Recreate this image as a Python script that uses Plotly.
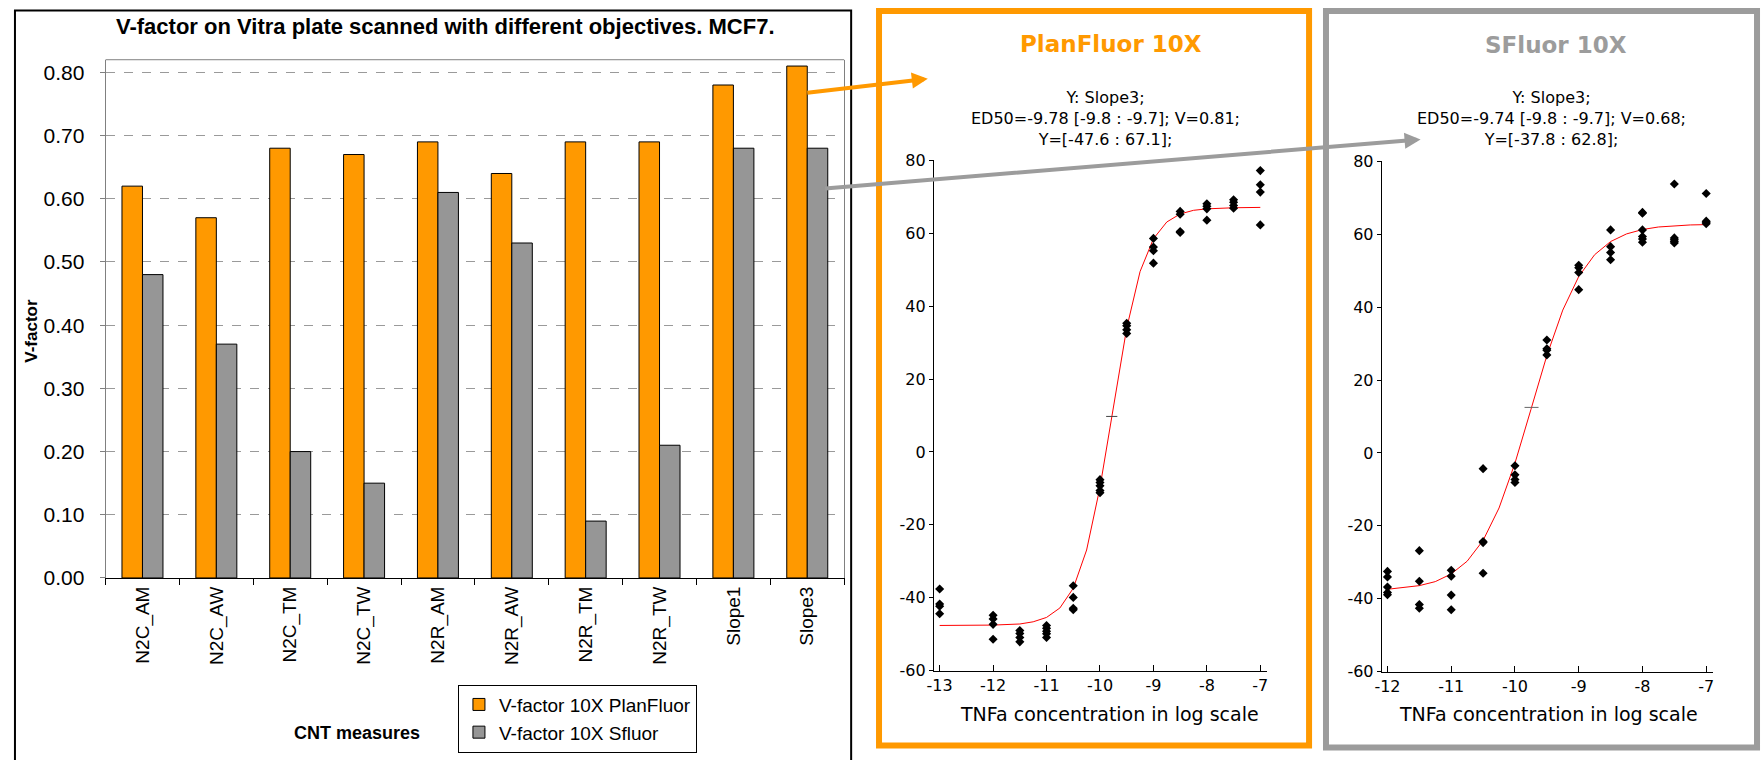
import plotly.graph_objects as go

W, H = 1763, 760
# measured vertical mapping of the photographed page (offset and scale)
Y_OFF, Y_SCALE = 7.1, 0.977

# ---------------- data ----------------
categories = ["N2C_AM", "N2C_AW", "N2C_TM", "N2C_TW", "N2R_AM",
              "N2R_AW", "N2R_TM", "N2R_TW", "Slope1", "Slope3"]
planfluor = [0.62, 0.57, 0.68, 0.67, 0.69, 0.64, 0.69, 0.69, 0.78, 0.81]
sfluor = [0.48, 0.37, 0.20, 0.15, 0.61, 0.53, 0.09, 0.21, 0.68, 0.68]
bar_yticks = [0.0, 0.1, 0.2, 0.3, 0.4, 0.5, 0.6, 0.7, 0.8]

pf_xticks = [-13, -12, -11, -10, -9, -8, -7]
pf_xticklabels = ["-13", "-12", "-11", "-10", "-9", "-8", "-7"]
sf_xticks = [-12, -11, -10, -9, -8, -7]
sf_xticklabels = ["-12", "-11", "-10", "-9", "-8", "-7"]
dr_yticks = [-60, -40, -20, 0, 20, 40, 60, 80]
dr_yticklabels = ["-60", "-40", "-20", "0", "20", "40", "60", "80"]

# PlanFluor 10X dose-response points
pf_x = [-13, -13, -13, -13,
        -12, -12, -12, -12,
        -11.5, -11.5, -11.5, -11.5,
        -11, -11, -11, -11, -11,
        -10.5, -10.5, -10.5, -10.5,
        -10, -10, -10, -10, -10,
        -9.5, -9.5, -9.5, -9.5,
        -9, -9, -9, -9,
        -8.5, -8.5, -8.5, -8.5,
        -8, -8, -8, -8,
        -7.5, -7.5, -7.5, -7.5,
        -7, -7, -7, -7]
pf_y = [-37.6, -41.7, -42.3, -44.4,
        -44.8, -45.8, -47.3, -51.4,
        -49.0, -49.8, -50.9, -52.1,
        -47.6, -48.4, -49.2, -49.9, -50.9,
        -36.7, -39.9, -42.9, -43.3,
        -7.6, -8.4, -9.3, -10.6, -11.2,
        35.3, 34.6, 33.5, 32.5,
        58.6, 56.2, 55.2, 51.8,
        66.0, 65.2, 60.5, 60.2,
        68.1, 67.4, 66.7, 63.6,
        69.2, 68.5, 67.6, 66.9,
        77.2, 73.3, 71.3, 62.3]
pf_curve_x = [-13, -12.5, -12, -11.5, -11.25, -11, -10.75, -10.5, -10.25, -10,
              -9.75, -9.5, -9.25, -9, -8.75, -8.5, -8.25, -8, -7.5, -7]
pf_curve_y = [-47.6, -47.6, -47.5, -47.2, -46.6, -45.4, -42.8, -37.4, -26.9, -9.7,
              12.5, 34.0, 49.5, 58.5, 63.1, 65.3, 66.3, 66.7, 67.0, 67.1]
pf_ed50 = [-9.78]
pf_mid = [9.75]

# SFluor 10X dose-response points
sf_x = [-12, -12, -12, -12, -12,
        -11.5, -11.5, -11.5, -11.5,
        -11, -11, -11, -11,
        -10.5, -10.5, -10.5, -10.5,
        -10, -10, -10, -10,
        -9.5, -9.5, -9.5, -9.5,
        -9, -9, -9, -9,
        -8.5, -8.5, -8.5, -8.5,
        -8, -8, -8, -8, -8, -8,
        -7.5, -7.5, -7.5, -7.5, -7.5,
        -7, -7, -7, -7]
sf_y = [-32.5, -34.0, -36.8, -38.3, -38.9,
        -26.8, -35.2, -41.6, -42.6,
        -32.2, -33.8, -39.0, -43.0,
        -4.3, -24.3, -24.6, -33.0,
        -3.5, -6.0, -7.3, -8.1,
        31.0, 28.6, 28.2, 26.9,
        51.5, 50.8, 49.5, 44.8,
        61.2, 56.6, 55.0, 53.0,
        66.0, 65.8, 61.2, 59.4, 58.7, 57.8,
        73.8, 59.0, 58.5, 58.0, 57.6,
        71.2, 63.6, 63.3, 62.9]
sf_curve_x = [-12, -11.75, -11.5, -11.25, -11, -10.75, -10.5, -10.25, -10,
              -9.75, -9.5, -9.25, -9, -8.75, -8.5, -8.25, -8, -7.75, -7.5, -7.25, -7]
sf_curve_y = [-37.4, -37.0, -36.4, -35.3, -33.2, -29.7, -24.0, -15.1, -2.8,
              11.9, 26.7, 39.2, 48.4, 54.4, 58.0, 60.1, 61.3, 62.0, 62.35, 62.56, 62.65]
sf_ed50 = [-9.74]
sf_mid = [12.5]

ORANGE = "#FF9900"
GRAY = "#969696"
FRAME_GRAY = "#9c9c9c"
ARIAL = "Liberation Sans"
TAHOMA = "DejaVu Sans"


def px(x):
    """target pixel x -> paper coordinate"""
    return x / W


def py(y):
    """target pixel y (from top) -> paper coordinate"""
    return 1 - ((y - Y_OFF) / Y_SCALE) / H


def dy(d):
    """vertical pixel distance in target picture -> page pixels"""
    return d / Y_SCALE


fig = go.Figure()

# ---------------- bar chart ----------------
fig.add_trace(go.Bar(x=categories, y=planfluor, name="V-factor 10X PlanFluor",
                     marker=dict(color=ORANGE, line=dict(color="black", width=1)),
                     xaxis="x", yaxis="y"))
fig.add_trace(go.Bar(x=categories, y=sfluor, name="V-factor 10X Sfluor",
                     marker=dict(color=GRAY, line=dict(color="black", width=1)),
                     xaxis="x", yaxis="y"))

# ---------------- dose-response panels ----------------
fig.add_trace(go.Scatter(x=pf_curve_x, y=pf_curve_y, mode="lines",
                         line=dict(color="red", width=1), showlegend=False,
                         xaxis="x2", yaxis="y2"))
fig.add_trace(go.Scatter(x=pf_x, y=pf_y, mode="markers",
                         marker=dict(symbol="diamond", size=7, color="black"),
                         showlegend=False, xaxis="x2", yaxis="y2"))
fig.add_trace(go.Scatter(x=pf_ed50, y=pf_mid, mode="markers",
                         marker=dict(symbol="line-ew", size=8,
                                     line=dict(color="#444", width=1)),
                         showlegend=False, xaxis="x2", yaxis="y2"))

fig.add_trace(go.Scatter(x=sf_curve_x, y=sf_curve_y, mode="lines",
                         line=dict(color="red", width=1), showlegend=False,
                         xaxis="x3", yaxis="y3"))
fig.add_trace(go.Scatter(x=sf_x, y=sf_y, mode="markers",
                         marker=dict(symbol="diamond", size=7, color="black"),
                         showlegend=False, xaxis="x3", yaxis="y3"))
fig.add_trace(go.Scatter(x=sf_ed50, y=sf_mid, mode="markers",
                         marker=dict(symbol="line-ew", size=10,
                                     line=dict(color="#666", width=1)),
                         showlegend=False, xaxis="x3", yaxis="y3"))

scatter_x_common = dict(showline=True, linecolor="black", linewidth=1,
                        ticks="inside", ticklen=6, tickcolor="black",
                        showgrid=False, zeroline=False,
                        tickfont=dict(family=TAHOMA, size=16, color="black"))
scatter_y_common = dict(showline=True, linecolor="black", linewidth=1,
                        ticks="outside", ticklen=4, tickcolor="black",
                        showgrid=False, zeroline=False, range=[-60, 80],
                        tickvals=dr_yticks, ticktext=dr_yticklabels,
                        tickfont=dict(family=TAHOMA, size=16, color="black"))

fig.update_layout(
    width=W, height=H,
    margin=dict(l=0, r=0, t=0, b=0),
    paper_bgcolor="white", plot_bgcolor="white",
    barmode="group", bargap=0.445, bargroupgap=0,
    showlegend=True,
    legend=dict(x=px(453), y=py(685), xanchor="left", yanchor="top",
                bordercolor="black", borderwidth=1, bgcolor="white",
                font=dict(family=ARIAL, size=19, color="black"),
                itemwidth=30, tracegroupgap=0),
    xaxis=dict(domain=[px(99), px(841)], anchor="y", type="category",
               tickson="boundaries", ticks="outside", ticklen=6,
               tickcolor="black", showline=True, linecolor="black",
               linewidth=1, tickangle=-90, showgrid=False,
               tickfont=dict(family=ARIAL, size=19, color="black")),
    yaxis=dict(domain=[py(578), py(58)], anchor="x", range=[0, 0.82],
               tickvals=bar_yticks, tickformat=".2f", ticks="outside",
               ticklen=5, tickcolor="#808080", showline=True,
               linecolor="#808080", linewidth=1, mirror=True,
               showgrid=True, gridcolor="#9a9a9a", griddash="dash",
               gridwidth=1, zeroline=False, ticklabelstandoff=11,
               tickfont=dict(family=ARIAL, size=21, color="black")),
    xaxis2=dict(domain=[px(931), px(1266)], anchor="y2",
                range=[-13.11, -6.87], tickvals=pf_xticks,
                ticktext=pf_xticklabels, **scatter_x_common),
    yaxis2=dict(domain=[py(671), py(159)], anchor="x2", **scatter_y_common),
    xaxis3=dict(domain=[px(1381), px(1714)], anchor="y3",
                range=[-12.09, -6.89], tickvals=sf_xticks,
                ticktext=sf_xticklabels, **scatter_x_common),
    yaxis3=dict(domain=[py(672), py(160)], anchor="x3", **scatter_y_common),
)

shapes = [
    # outer frames
    dict(type="rect", xref="paper", yref="paper", x0=px(8), x1=px(848),
         y0=-0.02, y1=py(8.5), line=dict(color="black", width=2)),
    dict(type="rect", xref="paper", yref="paper", x0=px(876), x1=px(1308),
         y0=py(746), y1=py(9), line=dict(color=ORANGE, width=6)),
    dict(type="rect", xref="paper", yref="paper", x0=px(1325), x1=px(1758),
         y0=py(748), y1=py(9), line=dict(color=FRAME_GRAY, width=6)),
    # top border of bar plot area
    dict(type="line", xref="paper", yref="paper", x0=px(99), x1=px(841),
         y0=py(58), y1=py(58), line=dict(color="#808080", width=1)),
]
fig.update_layout(shapes=shapes)


def label(text, x, y, size, family, color="black", angle=0):
    return dict(text=text, x=px(x), y=py(y), xref="paper", yref="paper",
                xanchor="center", yanchor="middle", showarrow=False,
                textangle=angle, align="center",
                font=dict(family=family, size=size, color=color))


annotations = [
    label("<b>V-factor on Vitra plate scanned with different objectives. MCF7.</b>",
          441, 25, 22, ARIAL),
    label("<b>V-factor</b>", 25, 330, 17, ARIAL, angle=-90),
    label("<b>CNT measures</b>", 352, 734, 18, ARIAL),
    label("<b>PlanFluor 10X</b>", 1109, 42, 23, TAHOMA, ORANGE),
    label("<b>SFluor 10X</b>", 1556, 43, 23, TAHOMA, FRAME_GRAY),
    label("Y: Slope3;<br>ED50=-9.78 [-9.8 : -9.7]; V=0.81;<br>Y=[-47.6 : 67.1];",
          1104, 117, 16, TAHOMA),
    label("Y: Slope3;<br>ED50=-9.74 [-9.8 : -9.7]; V=0.68;<br>Y=[-37.8 : 62.8];",
          1552, 117, 16, TAHOMA),
    label("TNFa concentration in log scale", 1108, 715, 19, TAHOMA),
    label("TNFa concentration in log scale", 1549, 715, 19, TAHOMA),
    # connecting arrows
    dict(text="", x=px(925), y=py(77), xref="paper", yref="paper",
         showarrow=True, ax=803 - 925, ay=dy(91 - 77), arrowhead=2,
         arrowsize=0.8, arrowwidth=4, arrowcolor=ORANGE, standoff=0),
    dict(text="", x=px(1420), y=py(138), xref="paper", yref="paper",
         showarrow=True, ax=823 - 1420, ay=dy(186 - 138), arrowhead=2,
         arrowsize=0.8, arrowwidth=4, arrowcolor=FRAME_GRAY, standoff=0),
]
fig.update_layout(annotations=annotations)

post_js = (
    "document.documentElement.style.margin='0';"
    "document.body.style.margin='0';"
    "document.body.style.padding='0';"
)

fig.write_html("out.html", config={"displayModeBar": False},
               post_script=post_js)
